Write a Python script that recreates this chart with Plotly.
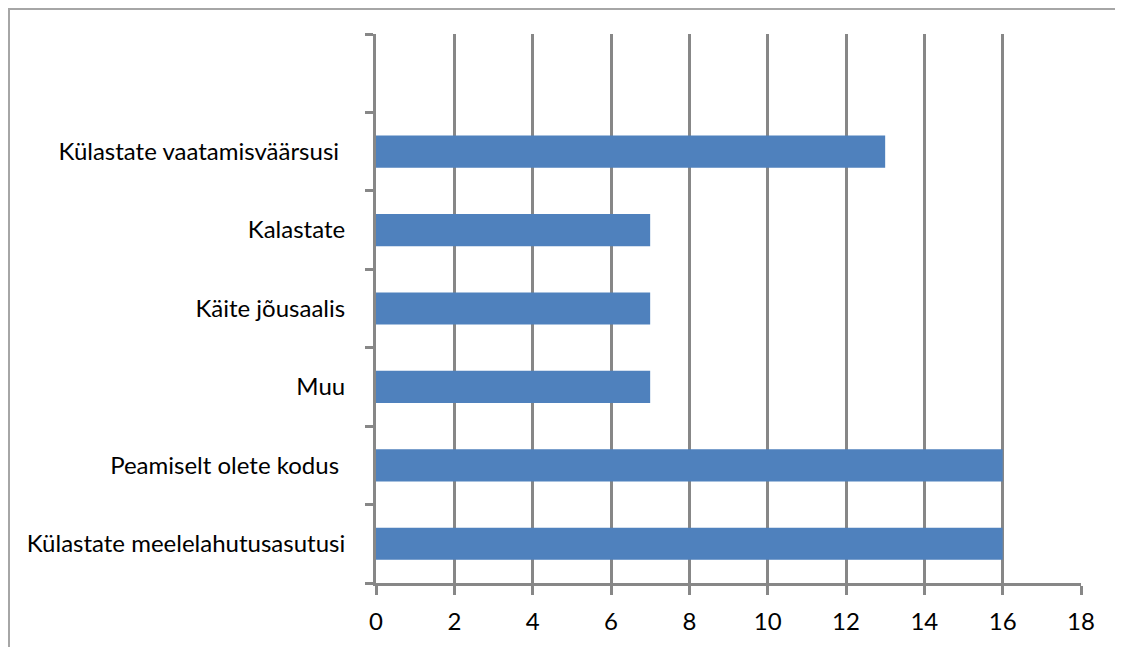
import plotly.graph_objects as go

categories = ["Külastate meelelahutusasutusi", "Peamiselt olete kodus ", "Muu", "Käite jõusaalis",
              "Kalastate", "Külastate vaatamisväärsusi ", " "]
values = [16, 16, 7, 7, 7, 13, None]
x_ticks = [0, 2, 4, 6, 8, 10, 12, 14, 16, 18]

GRID = "#878787"
FONT = dict(family="Lato, 'Open Sans', sans-serif", size=24, color="#000000")

fig = go.Figure()
fig.add_trace(go.Bar(
    x=values, y=categories, orientation="h",
    marker=dict(color="#4F81BD", line=dict(width=0)),
    width=0.41,
))

# page body has an 8px margin, so the figure is sized to fit the 1123x647 window
W, H = 1115, 639
ml, mr, mt, mb = 368, 42, 26, 64
pw, ph = W - ml - mr, H - mt - mb

fig.update_layout(
    width=W, height=H,
    margin=dict(l=ml, r=mr, t=mt, b=mb),
    paper_bgcolor="white", plot_bgcolor="white",
    font=FONT, showlegend=False,
    xaxis=dict(range=[0, 18], tickvals=x_ticks, showgrid=True, gridcolor=GRID, gridwidth=3,
               showline=True, linecolor=GRID, linewidth=3, ticks="outside", ticklen=9,
               tickcolor=GRID, tickwidth=3, zeroline=False, tickfont=FONT, fixedrange=True,
               ticklabelstandoff=6),
    yaxis=dict(type="category", categoryorder="array", categoryarray=categories,
               range=[-0.5, 6.5], showgrid=False, showline=True, linecolor=GRID, linewidth=3,
               ticks="outside", tickson="boundaries", ticklen=8, tickcolor=GRID, tickwidth=3,
               ticklabelstandoff=23, tickfont=FONT, fixedrange=True),
    shapes=[dict(type="rect", xref="paper", yref="paper",
                 x0=(1 - ml) / pw, x1=(W + 10 - ml) / pw,
                 y0=-(H + 10 - mt - ph) / ph, y1=(H - 1 - mb) / ph,
                 line=dict(color="#A6A6A6", width=2), fillcolor="rgba(0,0,0,0)", layer="below")],
)

fig.write_html("out.html")
